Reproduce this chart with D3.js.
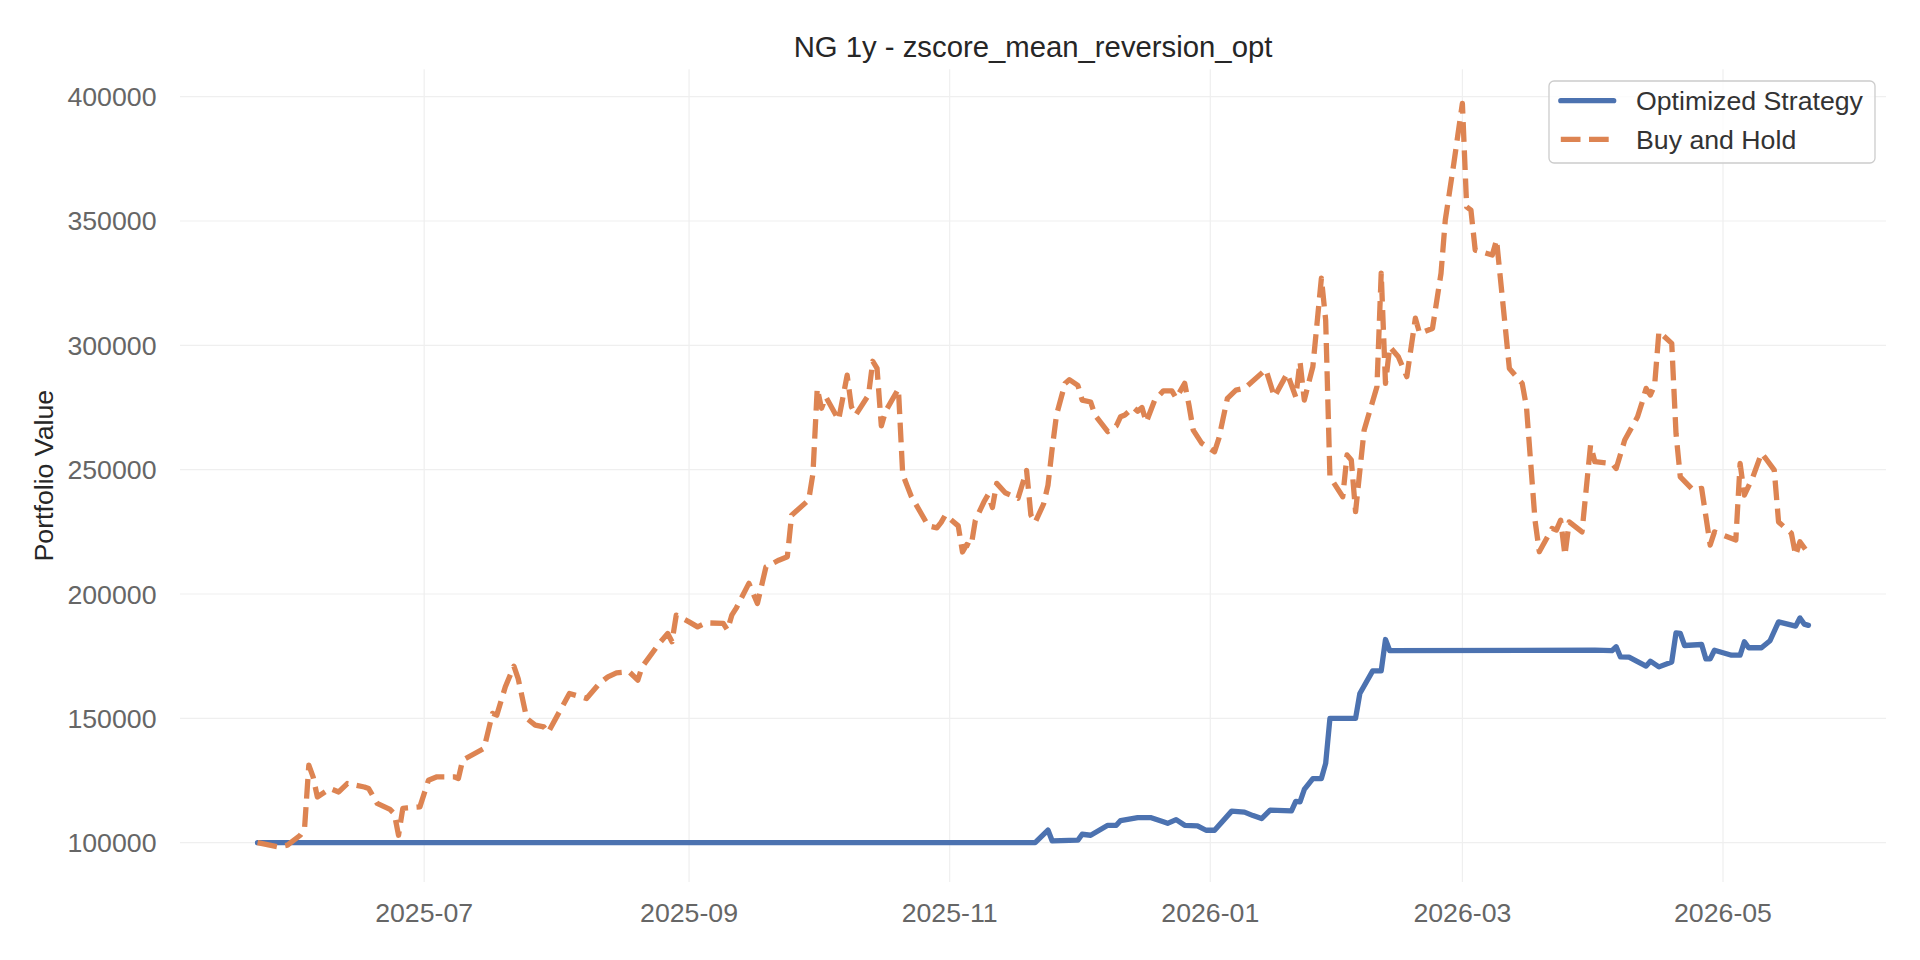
<!DOCTYPE html>
<html lang="en">
<head>
  <meta charset="UTF-8">
  <title>NG 1y - zscore_mean_reversion_opt</title>
  <script src="https://d3js.org/d3.v7.min.js"></script>
  <style>
    body {
      margin: 0;
      background: #fff;
    }
    svg {
      display: block;
      font-family: "Liberation Sans", Arial, sans-serif;
    }
    .grid line {
      stroke: #efefef;
      stroke-width: 1.2;
    }
    .tick-label {
      font-size: 26.7px;
      fill: #666;
    }
  </style>
</head>
<body>
  <svg width="1920" height="960"></svg>

  <script>
    // Buy and Hold (dashed orange)
    const bhDates = [
      "2025-05-23","2025-05-28","2025-05-30","2025-06-02","2025-06-03","2025-06-04","2025-06-05","2025-06-06",
      "2025-06-09","2025-06-11","2025-06-13","2025-06-15","2025-06-17","2025-06-18","2025-06-20","2025-06-23",
      "2025-06-24","2025-06-25","2025-06-26","2025-06-27","2025-06-30","2025-07-02","2025-07-04","2025-07-08",
      "2025-07-09","2025-07-10","2025-07-15","2025-07-17","2025-07-18","2025-07-20","2025-07-22","2025-07-23",
      "2025-07-25","2025-07-27","2025-07-29","2025-07-30","2025-08-01","2025-08-04","2025-08-08","2025-08-11",
      "2025-08-13","2025-08-15","2025-08-18","2025-08-20","2025-08-21","2025-08-25","2025-08-27","2025-08-28",
      "2025-08-29","2025-09-01","2025-09-03","2025-09-05","2025-09-09","2025-09-10","2025-09-11","2025-09-12",
      "2025-09-15","2025-09-17","2025-09-19","2025-09-22","2025-09-24","2025-09-25","2025-09-29","2025-09-30",
      "2025-10-01","2025-10-02","2025-10-03","2025-10-06","2025-10-08","2025-10-09","2025-10-10","2025-10-13",
      "2025-10-14","2025-10-15","2025-10-16","2025-10-17","2025-10-20","2025-10-21","2025-10-22","2025-10-23",
      "2025-10-27","2025-10-29","2025-10-30","2025-10-31","2025-11-03","2025-11-04","2025-11-05","2025-11-06",
      "2025-11-07","2025-11-09","2025-11-10","2025-11-11","2025-11-12","2025-11-14","2025-11-17","2025-11-19",
      "2025-11-20","2025-11-21","2025-11-23","2025-11-24","2025-11-25","2025-11-26","2025-11-28","2025-11-29",
      "2025-12-01","2025-12-02","2025-12-04","2025-12-05","2025-12-08","2025-12-10","2025-12-11","2025-12-12",
      "2025-12-14","2025-12-15","2025-12-16","2025-12-17","2025-12-19","2025-12-21","2025-12-23","2025-12-24",
      "2025-12-26","2025-12-27","2025-12-28","2025-12-30","2026-01-02","2026-01-03","2026-01-05","2026-01-07",
      "2026-01-09","2026-01-14","2026-01-16","2026-01-19","2026-01-21","2026-01-22","2026-01-23","2026-01-25",
      "2026-01-27","2026-01-28","2026-01-29","2026-02-01","2026-02-02","2026-02-03","2026-02-04","2026-02-06",
      "2026-02-09","2026-02-10","2026-02-11","2026-02-12","2026-02-14","2026-02-16","2026-02-18","2026-02-19",
      "2026-02-22","2026-02-24","2026-02-25","2026-02-27","2026-02-28","2026-03-01","2026-03-02","2026-03-03",
      "2026-03-04","2026-03-08","2026-03-09","2026-03-12","2026-03-15","2026-03-16","2026-03-18","2026-03-19",
      "2026-03-22","2026-03-23","2026-03-24","2026-03-25","2026-03-26","2026-03-29","2026-03-31","2026-04-01",
      "2026-04-05","2026-04-06","2026-04-08","2026-04-11","2026-04-12","2026-04-13","2026-04-14","2026-04-15",
      "2026-04-16","2026-04-19","2026-04-20","2026-04-21","2026-04-24","2026-04-26","2026-04-28","2026-04-29",
      "2026-05-02","2026-05-04","2026-05-05","2026-05-06","2026-05-08","2026-05-10","2026-05-11","2026-05-13",
      "2026-05-14","2026-05-17","2026-05-18","2026-05-19","2026-05-21"
    ];
    const bhValues = [
      100000, 98300, 99000, 103000, 105700, 131200, 126500, 118400,
      121800, 120400, 123800, 123100, 122400, 121800, 115800, 113400,
      111700, 103000, 113800, 114000, 114400, 125100, 126500, 126500,
      125800, 133200, 137900, 152000, 151300, 162700, 171000, 166000,
      150000, 147300, 146600, 144300, 150600, 160000, 158000, 164000,
      166700, 168300, 168700, 165400, 170700, 180100, 184100, 180800,
      191500, 188800, 186800, 188400, 188200, 185500, 191500, 194200,
      204300, 196200, 210900, 213600, 215000, 231700, 237800, 248500,
      282700, 274700, 279300, 270000, 288000, 275300, 272000, 280000,
      293600, 290700, 267600, 273500, 282500, 248200, 243700, 239300,
      227400, 226600, 228800, 231800, 227400, 216900, 219900, 219100,
      229600, 237000, 240000, 234800, 244500, 240700, 238500, 249700,
      231800, 228800, 236300, 243700, 258600, 272000, 284700, 286200,
      283900, 278000, 277200, 272000, 265300, 267600, 271300, 272000,
      275000, 273500, 275000, 269100, 278000, 281700, 281700, 278800,
      284700, 276000, 265900, 260600, 257200, 262600, 278700, 282000,
      282700, 290300, 279300, 288700, 279300, 293400, 278000, 291400,
      327000, 310200, 247100, 239100, 255900, 253900, 233100, 265900,
      283300, 329000, 284700, 299400, 295400, 287400, 310900, 304800,
      306800, 329000, 350400, 373200, 385300, 397300, 355700, 354400,
      338300, 336300, 342400, 290700, 284700, 275300, 229700, 217000,
      226400, 225700, 229700, 215600, 229000, 225000, 259900, 253200,
      252500, 250500, 261900, 271300, 276700, 282700, 280000, 284000,
      305500, 300800, 264600, 247100, 241800, 242500, 219700, 225000,
      223000, 221700, 252500, 239800, 247100, 256600, 254500, 249800,
      229000, 224400, 215600, 221000, 216300
    ];

    // Optimized Strategy (solid blue)
    const optDates = [
      "2025-05-23","2025-11-21","2025-11-24","2025-11-25","2025-12-01","2025-12-02","2025-12-04","2025-12-08",
      "2025-12-10","2025-12-11","2025-12-15","2025-12-18","2025-12-21","2025-12-22","2025-12-24","2025-12-26",
      "2025-12-29","2025-12-31","2026-01-02","2026-01-06","2026-01-09","2026-01-11","2026-01-13","2026-01-15",
      "2026-01-20","2026-01-21","2026-01-22","2026-01-23","2026-01-25","2026-01-27","2026-01-28","2026-01-29",
      "2026-02-04","2026-02-05","2026-02-08","2026-02-10","2026-02-11","2026-02-12","2026-04-01","2026-04-05",
      "2026-04-06","2026-04-07","2026-04-09","2026-04-13","2026-04-14","2026-04-16","2026-04-19","2026-04-20",
      "2026-04-21","2026-04-22","2026-04-26","2026-04-27","2026-04-28","2026-04-29","2026-05-03","2026-05-05",
      "2026-05-06","2026-05-07","2026-05-10","2026-05-12","2026-05-14","2026-05-18","2026-05-19","2026-05-20",
      "2026-05-21"
    ];
    const optValues = [
      100000, 100000, 105100, 100700, 101000, 103400, 103000, 107000,
      107000, 108900, 110100, 110100, 108400, 107800, 109300, 107000,
      106800, 105000, 105000, 112700, 112300, 110900, 109700, 113100,
      112800, 116600, 116400, 121400, 125800, 125800, 131900, 150000,
      150000, 160000, 169100, 169100, 181700, 177200, 177400, 177200,
      178800, 174700, 174600, 171000, 173000, 170700, 172700, 184400,
      184200, 179300, 179700, 173900, 173900, 177400, 175400, 175400,
      180800, 178400, 178400, 181200, 188800, 187100, 190400, 187900,
      187400
    ];

    const seriesNames = ["Optimized Strategy", "Buy and Hold"];
    const xTickLabels = ["2025-07", "2025-09", "2025-11", "2026-01", "2026-03", "2026-05"];
    const yTicks = [100000, 150000, 200000, 250000, 300000, 350000, 400000];

    const blue = "#4c72b0";
    const orange = "#dd8452";
    const lineW = 5.3;
    const dash = "19.7,8.5";

    // plot area in page pixels
    const plot = { left: 180, right: 1886, top: 69.3, bottom: 882 };

    const parseDay = d3.timeParse("%Y-%m-%d");
    const parseMonth = d3.timeParse("%Y-%m");

    const bh = bhDates.map((d, i) => ({ date: parseDay(d), value: bhValues[i] }));
    const opt = optDates.map((d, i) => ({ date: parseDay(d), value: optValues[i] }));

    const svg = d3.select("svg");

    // x: data extent with a 5% margin each side
    const allDates = bh.concat(opt).map(d => d.date);
    const [t0, t1] = d3.extent(allDates);
    const pad = (t1 - t0) * 0.05;
    const x = d3.scaleTime()
      .domain([new Date(+t0 - pad), new Date(+t1 + pad)])
      .range([plot.left, plot.right]);

    const y = d3.scaleLinear()
      .domain([84200, 411000])
      .range([plot.bottom, plot.top]);

    const xTicks = xTickLabels.map(parseMonth);

    // Grid
    const grid = svg.append("g").attr("class", "grid");
    grid.selectAll(".hgrid")
      .data(yTicks)
      .join("line")
      .attr("x1", plot.left)
      .attr("x2", plot.right)
      .attr("y1", d => y(d))
      .attr("y2", d => y(d));
    grid.selectAll(".vgrid")
      .data(xTicks)
      .join("line")
      .attr("x1", d => x(d))
      .attr("x2", d => x(d))
      .attr("y1", plot.top)
      .attr("y2", plot.bottom);

    // Y tick labels
    svg.append("g")
      .selectAll("text")
      .data(yTicks)
      .join("text")
      .attr("class", "tick-label")
      .attr("x", plot.left - 23.5)
      .attr("y", d => y(d) + 9.5)
      .attr("text-anchor", "end")
      .text(d => d3.format("d")(d));

    // X tick labels
    const fmtMonth = d3.timeFormat("%Y-%m");
    svg.append("g")
      .selectAll("text")
      .data(xTicks)
      .join("text")
      .attr("class", "tick-label")
      .attr("x", d => x(d))
      .attr("y", 921.5)
      .attr("text-anchor", "middle")
      .text(d => fmtMonth(d));

    // Lines
    const line = d3.line()
      .x(d => x(d.date))
      .y(d => y(d.value));

    svg.append("path")
      .datum(opt)
      .attr("fill", "none")
      .attr("stroke", blue)
      .attr("stroke-width", lineW)
      .attr("stroke-linejoin", "round")
      .attr("stroke-linecap", "round")
      .attr("d", line);

    svg.append("path")
      .datum(bh)
      .attr("fill", "none")
      .attr("stroke", orange)
      .attr("stroke-width", lineW)
      .attr("stroke-linejoin", "round")
      .attr("stroke-dasharray", dash)
      .attr("d", line);

    // Title and y label
    svg.append("text")
      .attr("x", (plot.left + plot.right) / 2)
      .attr("y", 56.5)
      .attr("text-anchor", "middle")
      .attr("font-size", "29.3px")
      .attr("fill", "#262626")
      .text("NG 1y - zscore_mean_reversion_opt");

    svg.append("text")
      .attr("transform", `translate(52.5,${(plot.top + plot.bottom) / 2}) rotate(-90)`)
      .attr("text-anchor", "middle")
      .attr("font-size", "26.7px")
      .attr("fill", "#262626")
      .text("Portfolio Value");

    // Legend
    const legend = svg.append("g").attr("transform", "translate(1549,81)");
    legend.append("rect")
      .attr("width", 326)
      .attr("height", 82)
      .attr("rx", 5)
      .attr("fill", "#fff")
      .attr("fill-opacity", 0.8)
      .attr("stroke", "#cccccc")
      .attr("stroke-width", 1.3);

    const rows = legend.selectAll(".row")
      .data(seriesNames)
      .join("g")
      .attr("transform", (d, i) => `translate(0,${19.7 + i * 38.6})`);

    rows.append("line")
      .attr("x1", 11.8)
      .attr("x2", 64.7)
      .attr("stroke", (d, i) => i === 0 ? blue : orange)
      .attr("stroke-width", lineW)
      .attr("stroke-linecap", (d, i) => i === 0 ? "round" : "butt")
      .attr("stroke-dasharray", (d, i) => i === 0 ? null : dash);

    rows.append("text")
      .attr("x", 87)
      .attr("y", 9.5)
      .attr("font-size", "26.7px")
      .attr("fill", "#333")
      .text(d => d);
  </script>
</body>
</html>
